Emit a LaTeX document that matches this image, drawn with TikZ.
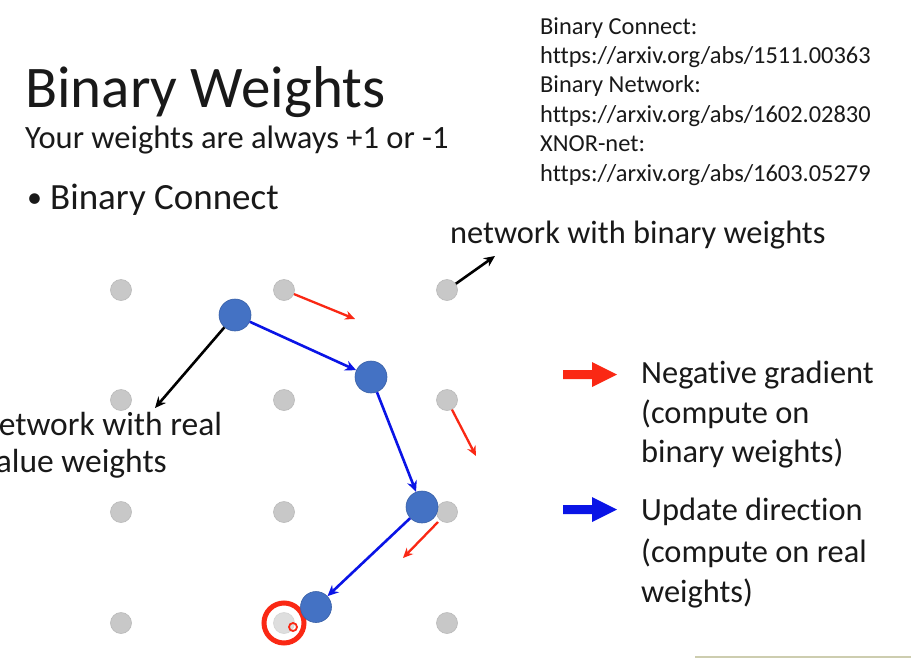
\documentclass[tikz,border=0pt]{standalone}
\usepackage{fontspec}
\setmainfont{Carlito}[RawFeature=-liga]
\usetikzlibrary{arrows.meta,calc}
\definecolor{dotgray}{RGB}{200,200,200}
\definecolor{dotedge}{RGB}{185,185,185}
\definecolor{wblue}{RGB}{68,114,196}
\definecolor{arrblue}{RGB}{10,20,230}
\definecolor{arrred}{RGB}{250,40,20}
\definecolor{txt}{RGB}{25,25,25}
\definecolor{frameline}{RGB}{205,205,175}
\tikzset{
  gdot/.style={circle,fill=dotgray,draw=dotedge,line width=0.6pt,minimum size=21pt,inner sep=0pt},
  bdot/.style={circle,fill=wblue,draw=wblue!85!black,line width=0.6pt,minimum size=32pt,inner sep=0pt},
  upd/.style={draw=arrblue,line width=2.6pt,-{Stealth[length=11pt,width=10pt]}},
  grad/.style={draw=arrred,line width=2.3pt,-{Stealth[length=10pt,width=9pt]}},
  lbl/.style={draw=black,line width=2.6pt,-{Stealth[length=11pt,width=10pt]}},
  t/.style={anchor=base west,inner sep=0pt,text=txt},
  reft/.style={t,font=\fontsize{24.4}{26}\selectfont},
  labt/.style={t,font=\fontsize{32.4}{34}\selectfont},
}
\begin{document}
\begin{tikzpicture}[x=1pt,y=-1pt]
\useasboundingbox (0,0) rectangle (911,659);
\fill[white] (0,0) rectangle (911,659);
% title texts
\node[t,font=\fontsize{59}{62}\selectfont] (title) at (25,107) {Binary Weights};
\node[t,font=\fontsize{32.5}{34}\selectfont] (sub) at (25,148) {Your weights are always +1 or -1};
\node[t,font=\fontsize{30}{32}\selectfont] (bullet) at (27,207) {•};
\node[t,font=\fontsize{37}{40}\selectfont] (bul) at (50,209) {Binary Connect};
% references
\node[reft] (ref1) at (540,34) {Binary Connect:};
\node[reft] (ref2) at (540,63.4) {https://arxiv.org/abs/1511.00363};
\node[reft] (ref3) at (540,92.8) {Binary Network:};
\node[reft] (ref4) at (540,122.2) {https://arxiv.org/abs/1602.02830};
\node[reft] (ref5) at (540,151.6) {XNOR-net:};
\node[reft] (ref6) at (540,181) {https://arxiv.org/abs/1603.05279};
% labels
\node[labt] (nbw) at (450,243) {network with binary weights};
\node[t,font=\fontsize{33.5}{35}\selectfont] (nrw1) at (-19,435) {network with real};
\node[t,font=\fontsize{33.5}{35}\selectfont] (nrw2) at (-19,472) {value weights};
\node[labt] (l1) at (641,383) {Negative gradient};
\node[labt] (l2) at (641,423) {(compute on};
\node[labt] (l3) at (641,462) {binary weights)};
\node[labt] (l4) at (641,520) {Update direction};
\node[labt] (l5) at (641,562) {(compute on real};
\node[labt] (l6) at (641,602) {weights)};
% legend arrows
\fill[arrred] (563,370) -- (592,370) -- (592,362) -- (617,374.5) -- (592,387) -- (592,379) -- (563,379) -- cycle;
\fill[arrblue] (563,505) -- (592,505) -- (592,497) -- (617,509.5) -- (592,522) -- (592,514) -- (563,514) -- cycle;
% grid of gray dots
\foreach \c/\x in {1/121,2/284,3/447}{
  \foreach \r/\y in {1/290,2/400,3/512,4/623}{
    \node[gdot] (g\r\c) at (\x,\y) {};
  }
}
% red target ring
\node[circle,draw=arrred,line width=5pt,minimum size=40pt,inner sep=0pt,fill=white,fill opacity=0.4] (ring) at (284,623) {};
\node[circle,draw=arrred,line width=1.8pt,minimum size=8pt,inner sep=0pt] (ring2) at (293,627) {};
% blue dots
\node[bdot] (b1) at (235,315) {};
\node[bdot] (b2) at (371,377) {};
\node[bdot] (b3) at (422,507) {};
\node[bdot,minimum size=31pt] (b4) at (316,607) {};
% update arrows
\draw[upd] (b1) -- (b2);
\draw[upd] (b2) -- (b3);
\draw[upd] (b3) -- (b4);
% gradient arrows
\coordinate (r1) at (355,319);
\coordinate (r2) at (476,456);
\coordinate (r3) at (403,558);
\coordinate (s3) at (438,522);
\draw[grad] (g12) -- (r1);
\draw[grad] (g23) -- (r2);
\draw[grad] (s3) -- (r3);
% label arrows
\coordinate (k1) at (155,408);
\coordinate (k2) at (495,256);
\draw[lbl] (b1) -- (k1);
\draw[lbl] (g13) -- (k2);
% bottom frame line
\draw[frameline,line width=2pt] (695,657) -- (911,657);
\end{tikzpicture}
\end{document}
